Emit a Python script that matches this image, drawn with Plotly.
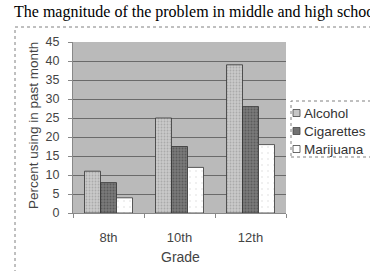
import plotly.graph_objects as go

grades = ["8th", "10th", "12th"]
series_names = ["Alcohol", "Cigarettes", "Marijuana"]
alcohol = [11, 25, 39]
cigarettes = [8, 17.5, 28]
marijuana = [4, 12, 18]
y_ticks = list(range(0, 50, 5))

W, H = 370, 271
L, R, T, B = 73, 84, 42, 58
PW, PH = W - L - R, H - T - B

def px(x):
    return (x - L) / PW

def py(y):
    return (H - B - y) / PH

fills = [
    dict(color="#c6c6c6", pattern=dict(shape=".", fgcolor="#8c8c8c", bgcolor="#c9c9c9", size=3, solidity=0.3)),
    dict(color="#727272", pattern=dict(shape=".", fgcolor="#3c3c3c", bgcolor="#7a7a7a", size=3, solidity=0.35)),
    dict(color="#ffffff", pattern=dict(shape=".", fgcolor="#b0b0b0", bgcolor="#ffffff", size=6, solidity=0.05)),
]

fig = go.Figure()
for name, vals, f in zip(series_names, [alcohol, cigarettes, marijuana], fills):
    fig.add_trace(go.Bar(
        x=grades, y=vals, name=name,
        marker=dict(color=f["color"], pattern=f["pattern"], line=dict(color="#333333", width=0.8)),
        showlegend=False,
    ))

shapes = [
    dict(type="rect", xref="paper", yref="paper", x0=px(15), x1=px(380), y0=py(290), y1=py(27),
         line=dict(color="#808080", width=1, dash="dot"), layer="below"),
    dict(type="rect", xref="paper", yref="paper", x0=px(291), x1=px(372), y0=py(157), y1=py(101),
         line=dict(color="#808080", width=1, dash="dot")),
]
annotations = [
    dict(text="The magnitude of the problem in middle and high schools", xref="paper", yref="paper",
         x=px(12), y=py(12), xanchor="left", yanchor="middle", showarrow=False,
         font=dict(family="Liberation Serif, Times New Roman, serif", size=16, color="#000000")),
    dict(text="Percent using in past month", xref="paper", yref="paper", textangle=-90,
         x=px(33), y=py(126), xanchor="center", yanchor="middle", showarrow=False,
         font=dict(family="Liberation Sans, Arial, sans-serif", size=13.5, color="#444444")),
    dict(text="Grade", xref="paper", yref="paper",
         x=px(180), y=py(257), xanchor="center", yanchor="middle", showarrow=False,
         font=dict(family="Liberation Sans, Arial, sans-serif", size=14, color="#444444")),
]
row_y = [113, 131, 149]
for name, f, ry in zip(series_names, fills, row_y):
    shapes.append(dict(type="rect", xref="paper", yref="paper", x0=px(293), x1=px(300),
                       y0=py(ry + 3.5), y1=py(ry - 3.5),
                       fillcolor=f["color"], line=dict(color="#444444", width=0.8)))
    annotations.append(dict(text=name, xref="paper", yref="paper", x=px(302), y=py(ry),
                            xanchor="left", yanchor="middle", showarrow=False,
                            font=dict(family="Liberation Sans, Arial, sans-serif", size=13.5, color="#333333")))

fig.update_layout(
    width=W, height=H,
    margin=dict(l=L, r=R, t=T, b=B, pad=0),
    paper_bgcolor="#ffffff",
    plot_bgcolor="#bababa",
    barmode="group",
    bargap=0.324,
    bargroupgap=0,
    shapes=shapes,
    annotations=annotations,
    font=dict(family="Liberation Sans, Arial, sans-serif", size=13, color="#444444"),
    xaxis=dict(categoryorder="array", categoryarray=grades, showgrid=False,
               ticks="outside", tickson="boundaries", ticklen=4, tickcolor="#888888",
               showline=True, linecolor="#888888", linewidth=1,
               tickfont=dict(size=13, color="#444444"), ticklabelstandoff=12),
    yaxis=dict(range=[0, 45], tickvals=y_ticks, showgrid=True, gridcolor="#6a6a6a", gridwidth=1,
               ticks="outside", ticklen=4, tickcolor="#888888", zeroline=False,
               showline=True, linecolor="#888888", linewidth=1,
               tickfont=dict(size=12.5, color="#444444"), ticklabelstandoff=6),
)

fig.write_html("out.html", config={"displayModeBar": False},
               post_script="document.body.style.margin='0px';document.body.style.overflow='hidden';")
